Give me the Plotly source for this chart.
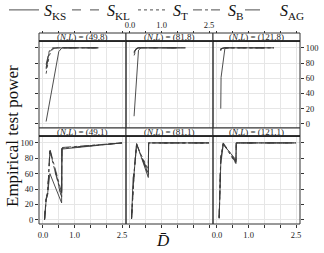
import plotly.graph_objects as go

# ---------------- data ----------------
SERIES = ["KS", "KL", "T", "B", "AG"]
DASHES = ["solid", "dash", "dot", "dashdot", "longdash"]
PANEL_LABELS = ["(49,8)", "(81,8)", "(121,8)", "(49,1)", "(81,1)", "(121,1)"]

# (N,L) = (49,8)
D_49_8 = [0.1, 0.2, 0.3, 0.4, 0.5, 0.6, 1.75]
KS_49_8 = [3, 26, 50, 73, 95, 100, 100]
KL_49_8 = [72, 94, 99, 100, 100, 100, 100]
T_49_8 = [66, 90, 98, 100, 100, 100, 100]
B_49_8 = [78, 96, 100, 100, 100, 100, 100]
AG_49_8 = [74, 95, 100, 100, 100, 100, 100]

# (N,L) = (81,8)
D_81_8 = [0.13, 0.2, 0.27, 0.35, 1.75]
KS_81_8 = [10, 55, 97, 100, 100]
KL_81_8 = [93, 99, 100, 100, 100]
T_81_8 = [90, 98, 100, 100, 100]
B_81_8 = [95, 99, 100, 100, 100]
AG_81_8 = [94, 99, 100, 100, 100]

# (N,L) = (121,8)
D_121_8 = [0.12, 0.13, 0.25, 0.35, 1.8]
KS_121_8 = [20, 61, 99, 100, 100]
KL_121_8 = [97, 99, 100, 100, 100]
T_121_8 = [96, 99, 100, 100, 100]
B_121_8 = [98, 99, 100, 100, 100]
AG_121_8 = [97, 99, 100, 100, 100]

# (N,L) = (49,1)
D_49_1 = [0.05, 0.1, 0.15, 0.22, 0.59, 0.6, 2.5]
KS_49_1 = [0, 25, 35, 60, 22, 92, 100]
KL_49_1 = [0, 28, 34, 91, 28, 93, 100]
T_49_1 = [0, 30, 36, 89, 30, 93, 100]
B_49_1 = [0, 26, 33, 92, 35, 94, 100]
AG_49_1 = [0, 27, 35, 90, 32, 93, 100]

# (N,L) = (81,1)
D_81_1 = [0.05, 0.1, 0.13, 0.21, 0.58, 0.59, 2.5]
KS_81_1 = [1, 55, 60, 99, 55, 100, 100]
KL_81_1 = [2, 52, 62, 98, 62, 100, 100]
T_81_1 = [1, 50, 60, 97, 65, 100, 100]
B_81_1 = [2, 53, 61, 99, 58, 100, 100]
AG_81_1 = [1, 54, 61, 98, 60, 100, 100]

# (N,L) = (121,1)
D_121_1 = [0.07, 0.1, 0.12, 0.2, 0.6, 0.61, 2.5]
KS_121_1 = [2, 45, 72, 98, 78, 100, 100]
KL_121_1 = [3, 48, 80, 99, 75, 100, 100]
T_121_1 = [2, 50, 82, 99, 73, 100, 100]
B_121_1 = [3, 46, 78, 100, 76, 100, 100]
AG_121_1 = [2, 47, 79, 99, 74, 100, 100]

X_TICKS = [0, 0.5, 1, 1.5, 2, 2.5]
X_TICKTEXT = ["0.0", "", "1.0", "", "", "2.5"]
Y_TICKS = [0, 20, 40, 60, 80, 100]

PANELS = [
    (D_49_8, [KS_49_8, KL_49_8, T_49_8, B_49_8, AG_49_8]),
    (D_81_8, [KS_81_8, KL_81_8, T_81_8, B_81_8, AG_81_8]),
    (D_121_8, [KS_121_8, KL_121_8, T_121_8, B_121_8, AG_121_8]),
    (D_49_1, [KS_49_1, KL_49_1, T_49_1, B_49_1, AG_49_1]),
    (D_81_1, [KS_81_1, KL_81_1, T_81_1, B_81_1, AG_81_1]),
    (D_121_1, [KS_121_1, KL_121_1, T_121_1, B_121_1, AG_121_1]),
]

# ---------------- layout geometry ----------------
W, H = 324, 253
ML, MR, MT, MB = 39, 24, 33, 29
PW = W - ML - MR
PH = H - MT - MB

def py(p):  # pixel y -> paper
    return (H - MB - p) / PH

def px(p):
    return (p - ML) / PW

COLS = [(0, 87 / PW), (87 / PW, 174 / PW), (174 / PW, 1)]
TOP_PANEL = (py(128), py(41))
TOP_STRIP = (py(41), 1.0)
BOT_PANEL = (0.0, py(136))
BOT_STRIP = (py(136), py(128))
LEGEND_X = [4, 67, 133, 188, 240]   # left edge (px) of each legend entry

FONT = "Liberation Serif"
LINE_COL = "#3a3a3a"
GRID = "#e6e6e6"
TICKFONT = dict(family=FONT, size=8.5, color="#222")

fig = go.Figure()
for i, (xs, ys_list) in enumerate(PANELS):
    k = "" if i == 0 else str(i + 1)
    for j, ys in enumerate(ys_list):
        fig.add_trace(go.Scatter(
            x=xs, y=ys, mode="lines",
            xaxis="x" + k, yaxis="y" + k,
            name="<i>S</i><sub>" + SERIES[j] + "</sub>",
            showlegend=(i == 0),
            legend="legend" if j == 0 else "legend" + str(j + 1),
            line=dict(color=LINE_COL, width=0.9, dash=DASHES[j]),
        ))

layout = {}
for i in range(6):
    k = "" if i == 0 else str(i + 1)
    row = i // 3
    col = i % 3
    ydom = TOP_PANEL if row == 0 else BOT_PANEL
    xa = dict(domain=list(COLS[col]), range=[-0.125, 2.625],
              tickvals=X_TICKS, ticktext=X_TICKTEXT,
              showgrid=True, gridcolor=GRID, gridwidth=1, zeroline=False,
              showline=False, ticks="outside", ticklen=3, tickcolor="#333",
              tickfont=TICKFONT, fixedrange=True, automargin=False)
    if row == 0:
        xa.update(anchor="free", position=1.0, side="top", ticklen=2,
                  showticklabels=(col == 1))
    else:
        xa.update(anchor="y" + k, side="bottom",
                  showticklabels=(col != 1))
    ya = dict(domain=list(ydom), range=[-5.5, 109], tickvals=Y_TICKS,
              showgrid=True, gridcolor=GRID, gridwidth=1, zeroline=False,
              showline=False, anchor="x" + k, tickfont=TICKFONT,
              tickcolor="#333", ticklen=3, fixedrange=True, automargin=False)
    if col == 0:
        ya.update(side="left", ticks="outside", showticklabels=(row == 1))
    elif col == 2:
        ya.update(side="right", ticks="outside", showticklabels=(row == 0))
    else:
        ya.update(ticks="", showticklabels=False)
    layout["xaxis" + k] = xa
    layout["yaxis" + k] = ya

for j in range(5):
    key = "legend" if j == 0 else "legend" + str(j + 1)
    layout[key] = dict(orientation="h", x=px(LEGEND_X[j]), y=py(10),
                       xanchor="left", yanchor="middle",
                       font=dict(family=FONT, size=16, color="#111"),
                       itemwidth=30, bgcolor="rgba(0,0,0,0)", borderwidth=0)

shapes = []
annotations = []
for i in range(6):
    row = i // 3
    col = i % 3
    x0, x1 = COLS[col]
    pdom = TOP_PANEL if row == 0 else BOT_PANEL
    sdom = TOP_STRIP if row == 0 else BOT_STRIP
    shapes.append(dict(type="rect", xref="paper", yref="paper", x0=x0, x1=x1,
                       y0=pdom[0], y1=pdom[1], line=dict(color="#333", width=1),
                       fillcolor="rgba(0,0,0,0)", layer="above"))
    shapes.append(dict(type="rect", xref="paper", yref="paper", x0=x0, x1=x1,
                       y0=sdom[0], y1=sdom[1], line=dict(color="#333", width=1),
                       fillcolor="white", layer="above"))
    shapes.append(dict(type="line", xref="paper", yref="paper", x0=x0, x1=x1,
                       y0=sdom[0], y1=sdom[0], line=dict(color="#111", width=1.6),
                       layer="above"))
    annotations.append(dict(
        text="(<i>N</i>,<i>L</i>) = " + PANEL_LABELS[i],
        xref="paper", yref="paper", x=(x0 + x1) / 2, y=(sdom[0] + sdom[1]) / 2,
        xanchor="center", yanchor="middle", showarrow=False,
        font=dict(family=FONT, size=9, color="#222")))

annotations.append(dict(text="Empirical test power", xref="paper", yref="paper",
                        x=px(12), y=py(136), textangle=-90, showarrow=False,
                        xanchor="center", yanchor="middle",
                        font=dict(family=FONT, size=17, color="#111")))
annotations.append(dict(text="<i>D\u0304</i>", xref="paper", yref="paper",
                        x=px(163), y=py(240), showarrow=False,
                        xanchor="center", yanchor="middle",
                        font=dict(family=FONT, size=17, color="#111")))

fig.update_layout(
    width=W, height=H,
    margin=dict(l=ML, r=MR, t=MT, b=MB, pad=0, autoexpand=False),
    paper_bgcolor="white", plot_bgcolor="white",
    shapes=shapes, annotations=annotations,
    **layout,
)

fig.write_html("out.html", config={"displayModeBar": False},
               post_script="document.body.style.margin='0';document.body.style.padding='0';")
